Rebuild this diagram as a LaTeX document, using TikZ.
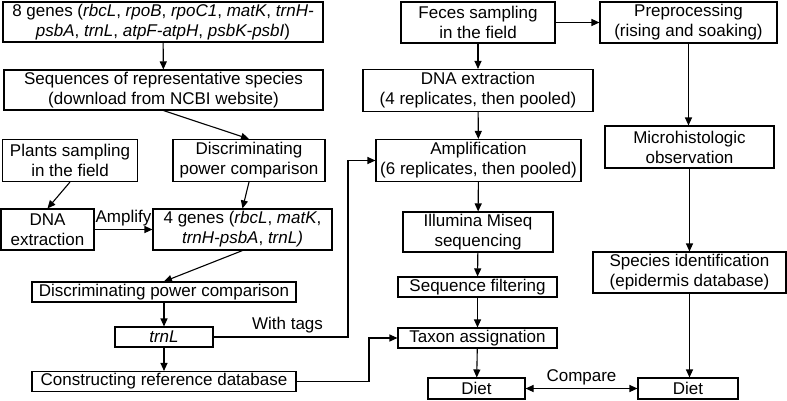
\documentclass[tikz,border=0pt]{standalone}
\usepackage{fontspec}
\setmainfont{Liberation Sans}
\usetikzlibrary{arrows.meta}

\begin{document}
\begin{tikzpicture}[x=1pt,y=-1pt,
    box/.style={draw,line width=1.1pt,inner sep=0pt,align=center,
      font=\fontsize{17}{20}\selectfont},
    arr/.style={line width=1.1pt,-{Triangle[length=8pt,width=7pt]}},
    biarr/.style={line width=1.1pt,{Triangle[length=8pt,width=7pt]}-{Triangle[length=8pt,width=7pt]}},
    lbl/.style={font=\fontsize{17}{20}\selectfont}]
  \useasboundingbox (0,0) rectangle (787,400);

  % left column: reference database
  \node[box,minimum width=320,minimum height=40] (gen8) at (163,22)
    {8 genes (\textit{rbcL}, \textit{rpoB}, \textit{rpoC1}, \textit{matK}, \textit{trnH-}\\
     \textit{psbA}, \textit{trnL}, \textit{atpF-atpH}, \textit{psbK-psbI})};
  \node[box,minimum width=319,minimum height=40] (seqs) at (163.5,90)
    {Sequences of representative species\\(download from NCBI website)};
  \node[box,minimum width=135,minimum height=42] (plants) at (70,160.5)
    {Plants sampling\\in the field};
  \node[box,minimum width=152,minimum height=42] (discA) at (249,160.5)
    {Discriminating\\power comparison};
  \node[box,minimum width=93,minimum height=41] (dnaP) at (47.5,229.5)
    {DNA\\extraction};
  \node[box,minimum width=179,minimum height=41] (gen4) at (242.5,229.5)
    {4 genes (\textit{rbcL}, \textit{matK},\\\textit{trnH-psbA}, \textit{trnL)}};
  \node[box,minimum width=264,minimum height=20] (discB) at (164,292)
    {Discriminating power comparison};
  \node[box,minimum width=98,minimum height=20] (trnl) at (164,337)
    {\textit{trnL}};
  \node[box,minimum width=264,minimum height=20] (refdb) at (164,381.5)
    {Constructing reference database};

  % middle column: metabarcoding
  \node[box,minimum width=154,minimum height=41] (feces) at (478,22.5)
    {Feces sampling\\in the field};
  \node[box,minimum width=230,minimum height=42] (dnaF) at (478,90.5)
    {DNA extraction\\(4 replicates, then pooled)};
  \node[box,minimum width=205,minimum height=42] (ampl) at (478.5,160.5)
    {Amplification\\(6 replicates, then pooled)};
  \node[box,minimum width=150,minimum height=40] (illu) at (478,232)
    {Illumina Miseq\\sequencing};
  \node[box,minimum width=159,minimum height=20] (filt) at (477.5,287)
    {Sequence filtering};
  \node[box,minimum width=159,minimum height=20] (taxon) at (477.5,338)
    {Taxon assignation};
  \node[box,minimum width=97,minimum height=21] (dietL) at (476.5,388.5)
    {Diet};

  % right column: microhistology
  \node[box,minimum width=177,minimum height=41] (prep) at (688.5,22.5)
    {Preprocessing\\(rising and soaking)};
  \node[box,minimum width=169,minimum height=42] (micro) at (689.5,147)
    {Microhistologic\\observation};
  \node[box,minimum width=193,minimum height=41] (spec) at (689.5,272.5)
    {Species identification\\(epidermis database)};
  \node[box,minimum width=100,minimum height=21] (dietR) at (688,388.5)
    {Diet};

  \draw[arr] (gen8) -- (seqs);
  \draw[arr] (seqs.south) -- (discA.north);
  \draw[arr] (plants.south) -- (dnaP.north);
  \draw[arr] (discA.south) -- (gen4.north);
  \draw[arr] (dnaP) -- node[lbl,above] {Amplify} (gen4);
  \draw[arr] (gen4.south) -- (discB.north);
  \draw[arr] (discB) -- (trnl);
  \draw[arr] (trnl) -- (refdb);
  \draw[arr] (trnl.east) -- node[lbl,above,pos=0.55] {With tags} (348,337) |- (ampl.west);
  \draw[arr] (refdb.east) -- (369,381.5) |- (taxon.west);

  \draw[arr] (feces) -- (prep);
  \draw[arr] (feces) -- (dnaF);
  \draw[arr] (dnaF) -- (ampl);
  \draw[arr] (ampl) -- (illu);
  \draw[arr] (illu) -- (filt);
  \draw[arr] (filt) -- (taxon);
  \draw[arr] (taxon) -- (dietL);

  \draw[arr] (prep) -- (prep |- micro.north);
  \draw[arr] (micro) -- (micro |- spec.north);
  \draw[arr] (spec) -- (spec |- dietR.north);
  \draw[biarr] (dietL) -- node[lbl,above] {Compare} (dietR);
\end{tikzpicture}
\end{document}
